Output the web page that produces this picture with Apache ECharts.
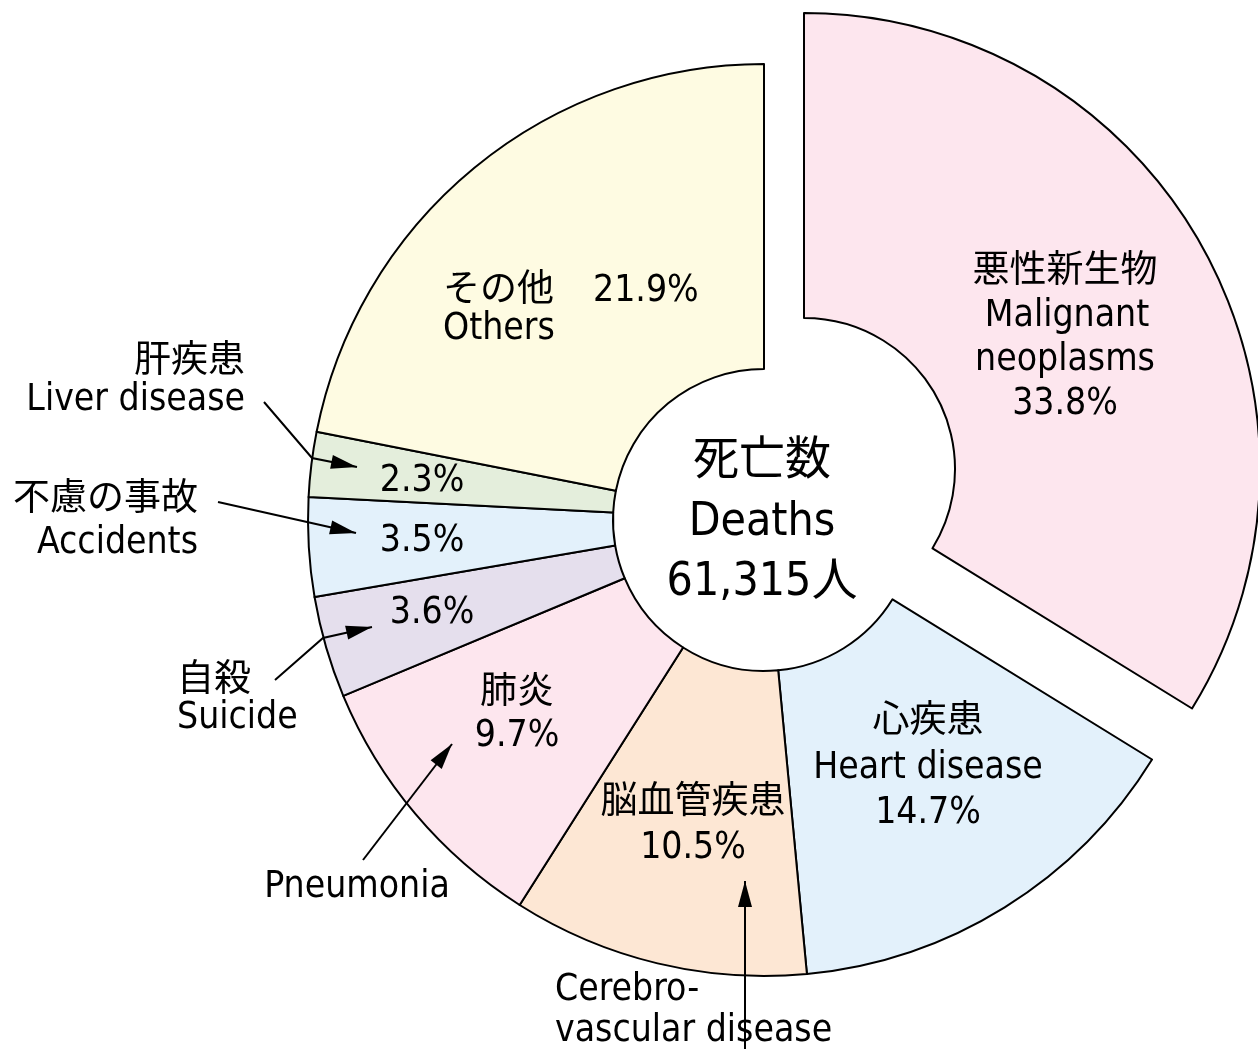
<!DOCTYPE html>
<html>
<head>
<meta charset="utf-8">
<script src="https://cdn.jsdelivr.net/npm/echarts@6/dist/echarts.min.js"></script>
<style>
  html, body { margin: 0; padding: 0; background: #fff; }
  #chart { width: 1258px; height: 1049px; }
</style>
</head>
<body>
<div id="chart"></div>
<script>
// 死因別死亡割合
const causesJa = ['悪性新生物', '心疾患', '脳血管疾患', '肺炎', '自殺', '不慮の事故', '肝疾患', 'その他'];
const causesEn = ['Malignant neoplasms', 'Heart disease', 'Cerebrovascular disease', 'Pneumonia', 'Suicide', 'Accidents', 'Liver disease', 'Others'];
const shares = [33.8, 14.7, 10.5, 9.7, 3.6, 3.5, 2.3, 21.9];
const totalLabel = ['死亡数', 'Deaths', '61,315人'];

const colors = ['#fde6ee', '#e3f1fb', '#fde7d4', '#fde6ee', '#e5dfed', '#e3f1fb', '#e4eedc', '#fefbe2'];
const FONT = "'DejaVu Sans Condensed', 'Noto Sans CJK JP', sans-serif";

const chart = echarts.init(document.getElementById('chart'));

// 一つ目(悪性新生物)だけ切り出して別の中心で描く
const pieBase = {
  type: 'pie',
  radius: [151, 456],
  startAngle: 90,
  clockwise: true,
  silent: true,
  label: { show: false },
  labelLine: { show: false },
  emphasis: { disabled: true },
};
const mainData = shares.map((v, i) => ({
  name: causesJa[i],
  value: v,
  itemStyle: i === 0
    ? { color: 'transparent', borderWidth: 0 }
    : { color: colors[i], borderColor: '#000', borderWidth: 2 },
}));
const explodedData = shares.map((v, i) => ({
  name: causesJa[i],
  value: v,
  itemStyle: i === 0
    ? { color: colors[i], borderColor: '#000', borderWidth: 2 }
    : { color: 'transparent', borderWidth: 0 },
}));

function txt(str, x, y, align, size) {
  return {
    type: 'text', silent: true, z: 10,
    style: {
      text: str, x: x, y: y, fill: '#000',
      fontSize: size || 37, fontFamily: FONT,
      align: align || 'center', textAlign: align || 'center',
      verticalAlign: 'middle', textVerticalAlign: 'middle',
    },
  };
}

function arrow(points) {
  const [x1, y1] = points[points.length - 2];
  const [x2, y2] = points[points.length - 1];
  const len = Math.hypot(x2 - x1, y2 - y1);
  const ux = (x2 - x1) / len, uy = (y2 - y1) / len;
  const L = 26, W = 7;
  const bx = x2 - ux * L, by = y2 - uy * L;
  return [
    { type: 'polyline', silent: true, z: 10, shape: { points: points }, style: { stroke: '#000', lineWidth: 2, fill: null } },
    { type: 'polygon', silent: true, z: 10, shape: { points: [[x2, y2], [bx - uy * W, by + ux * W], [bx + uy * W, by - ux * W]] }, style: { fill: '#000' } },
  ];
}

const pct = i => shares[i].toFixed(1) + '%';

const texts = [
  // 悪性新生物
  txt(causesJa[0], 1065, 272), txt('Malignant', 1067, 316), txt('neoplasms', 1065, 360), txt(pct(0), 1065, 404),
  // 心疾患
  txt(causesJa[1], 928, 722), txt(causesEn[1], 928, 768), txt(pct(1), 928, 813),
  // 脳血管疾患
  txt(causesJa[2], 693, 803), txt(pct(2), 693, 848),
  txt('Cerebro-', 555, 990, 'left'), txt('vascular disease', 555, 1031, 'left'),
  // 肺炎
  txt(causesJa[3], 517, 693), txt(pct(3), 517, 736), txt(causesEn[3], 357, 887),
  // 自殺
  txt(causesJa[4], 177, 681, 'left'), txt(causesEn[4], 177, 718, 'left'), txt(pct(4), 432, 613),
  // 不慮の事故
  txt(causesJa[5], 198, 500, 'right'), txt(causesEn[5], 198, 543, 'right'), txt(pct(5), 422, 541),
  // 肝疾患
  txt(causesJa[6], 245, 362, 'right'), txt(causesEn[6], 245, 400, 'right'), txt(pct(6), 422, 481),
  // その他
  txt(causesJa[7], 443, 291, 'left'), txt(pct(7), 593, 291, 'left'), txt(causesEn[7], 443, 329, 'left'),
  // 中央
  txt(totalLabel[0], 762, 462, 'center', 46), txt(totalLabel[1], 762, 523, 'center', 46), txt(totalLabel[2], 762, 583, 'center', 46),
];

const arrows = [].concat(
  arrow([[264, 402], [312, 458], [357, 467]]),
  arrow([[218, 502], [356, 533]]),
  arrow([[275, 680], [323, 638], [372, 627]]),
  arrow([[363, 860], [452, 744]]),
  arrow([[745, 1049], [745, 881]])
);

chart.setOption({
  animation: false,
  backgroundColor: '#fff',
  series: [
    Object.assign({}, pieBase, { center: [764, 520], data: mainData }),
    Object.assign({}, pieBase, { center: [804, 469], data: explodedData }),
  ],
  graphic: { elements: texts.concat(arrows) },
});
</script>
</body>
</html>
